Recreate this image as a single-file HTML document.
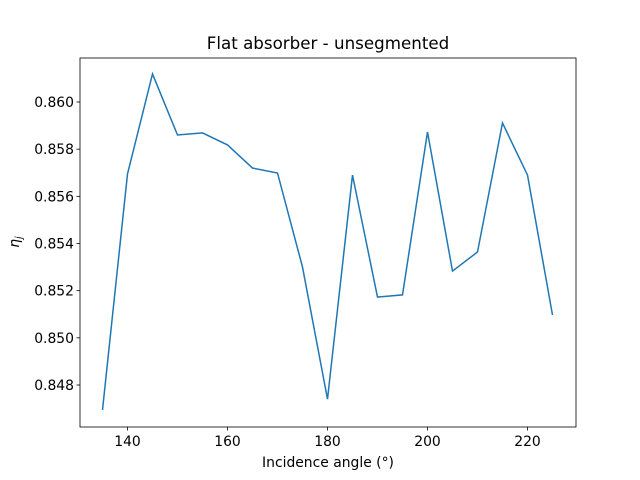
<!DOCTYPE html>
<html><head><meta charset="utf-8"><style>body{margin:0;background:#fff}svg{display:block}text{font-family:"DejaVu Sans","Liberation Sans",sans-serif;fill:#000}</style></head>
<body>
<svg id="c" width="640" height="480"></svg>
<script>
const angles=[135,140,145,150,155,160,165,170,175,180,185,190,195,200,205,210,215,220,225];
const eta=[0.84694,0.85695,0.86119,0.8586,0.85869,0.85818,0.8572,0.85699,0.853,0.8474,0.8569,0.85173,0.85182,0.85873,0.85283,0.85364,0.85911,0.8569,0.85097];
const xTicks=[140,160,180,200,220];
const yTicks=[0.848,0.850,0.852,0.854,0.856,0.858,0.860];
const L=80,R=576,T=58,B=427;
const xs=v=>102.5+(v-135)*5;
const ys=v=>102+(0.860-v)*23583;
const svg=document.getElementById('c');const NS='http://www.w3.org/2000/svg';
function mk(t,a,p){const e=document.createElementNS(NS,t);for(const k in a)e.setAttribute(k,a[k]);(p||svg).appendChild(e);return e;}
const title=mk('text',{x:328,y:49,'text-anchor':'middle','font-size':16.7});title.textContent='Flat absorber - unsegmented';


const ax=mk('rect',{x:L,y:T,width:R-L,height:B-T,fill:'none',stroke:'#000','stroke-width':0.8});


xTicks.forEach(v=>{const x=xs(v);mk('line',{x1:x,x2:x,y1:B,y2:B+3.5,stroke:'#000','stroke-width':0.8});
const t=mk('text',{x:x,y:B+19,'text-anchor':'middle','font-size':13.9});t.textContent=v;

});
yTicks.forEach(v=>{const y=ys(v);mk('line',{x1:L,x2:L-3.5,y1:y,y2:y,stroke:'#000','stroke-width':0.8});
const t=mk('text',{x:L-6,y:y+5,'text-anchor':'end','font-size':13.9});t.textContent=v.toFixed(3);

});
const xl=mk('text',{x:328,y:467,'text-anchor':'middle','font-size':13.9});xl.textContent='Incidence angle (°)';


const yl=mk('text',{x:0,y:0,'text-anchor':'middle','font-size':13.9,'font-style':'italic',transform:'translate(19,242) rotate(-90)'});
yl.innerHTML='η<tspan font-size="9.7" dy="3">j</tspan>';


const line=mk('polyline',{points:angles.map((a,i)=>xs(a)+','+ys(eta[i])).join(' '),fill:'none',stroke:'#1f77b4','stroke-width':1.5});


</script>
</body></html>
